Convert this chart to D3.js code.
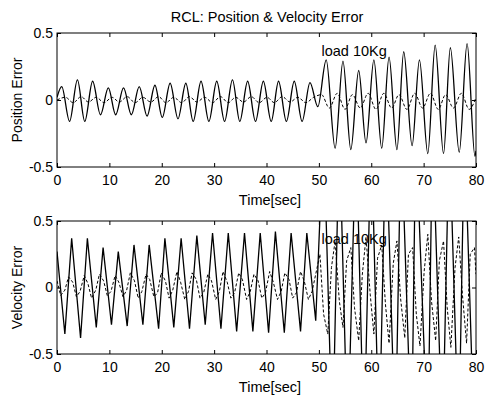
<!DOCTYPE html>
<html lang="en">
<head>
<meta charset="utf-8"/>
<title>RCL Position & Velocity Error</title>
<script src="https://d3js.org/d3.v7.min.js"></script>
<style>
  body { margin: 0; background: #fff; }
  text { font-family: "Liberation Sans", Arial, sans-serif; fill: #000; }
</style>
</head>
<body>
<div id="chart"></div>
<script>
// ticks and labels
var xTicks = [0, 10, 20, 30, 40, 50, 60, 70, 80];
var yTicks = [-0.5, 0, 0.5];
var yTickLabels = ["-0.5", "0", "0.5"];

// position error, solid line (time [s], error) read at the peaks / troughs
var posSolid = [
  [0, 0.02], [0.9, 0.10], [2.4, -0.16], [3.9, 0.15], [5.3, -0.16], [6.8, 0.14],
  [8.3, -0.11], [9.8, 0.09], [11.2, -0.11], [12.7, 0.09], [14.2, -0.11], [15.7, 0.10],
  [17.2, -0.12], [18.7, 0.11], [20.1, -0.13], [21.6, 0.125], [23.1, -0.14], [24.6, 0.125],
  [26.0, -0.16], [27.5, 0.14], [29.0, -0.16], [30.5, 0.14], [32.0, -0.16], [33.5, 0.15],
  [34.9, -0.16], [36.4, 0.14], [37.9, -0.16], [39.4, 0.14], [40.9, -0.16], [42.3, 0.14],
  [43.8, -0.16], [45.3, 0.14], [46.8, -0.16], [48.3, 0.13], [49.8, -0.05], [51.4, 0.30],
  [53.1, -0.36], [54.6, 0.29], [56.1, -0.37], [57.6, 0.22], [59.0, -0.32], [60.5, 0.30],
  [62.0, -0.36], [63.4, 0.32], [64.9, -0.37], [66.2, 0.36], [67.8, -0.34], [69.2, 0.30],
  [70.8, -0.40], [72.2, 0.41], [73.8, -0.40], [75.1, 0.39], [76.8, -0.39], [78.3, 0.42],
  [79.8, -0.42], [80, -0.38]
];

// position error, dashed line
var posDash = [
  [0, 0.0], [1.6, 0.02], [3.1, -0.02], [4.6, 0.025], [6.0, -0.015], [7.5, 0.02],
  [9.0, -0.02], [10.5, 0.02], [11.9, -0.015], [13.4, 0.025], [14.9, -0.02], [16.4, 0.02],
  [17.9, -0.015], [19.4, 0.025], [20.8, -0.02], [22.3, 0.02], [23.8, -0.02], [25.3, 0.025],
  [26.7, -0.015], [28.2, 0.02], [29.7, -0.02], [31.2, 0.025], [32.7, -0.02], [34.1, 0.02],
  [35.6, -0.015], [37.1, 0.025], [38.6, -0.02], [40.1, 0.02], [41.5, -0.02], [43.0, 0.025],
  [44.5, -0.015], [46.0, 0.02], [47.5, -0.02], [49.0, 0.02], [50.5, 0.04], [52.0, -0.06],
  [53.5, 0.05], [55.0, -0.07], [56.4, 0.04], [57.9, -0.06], [59.4, 0.05], [60.9, -0.07],
  [62.4, 0.05], [63.9, -0.06], [65.3, 0.04], [66.8, -0.07], [68.3, 0.05], [69.8, -0.06],
  [71.3, 0.05], [72.8, -0.07], [74.2, 0.04], [75.7, -0.06], [77.2, 0.05], [78.7, -0.07],
  [80, 0.02]
];

// velocity error, solid line
var velSolid = [
  [0, 0.27], [1.5, -0.35], [2.8, 0.37], [4.5, -0.38], [5.8, 0.37], [7.5, -0.30],
  [8.8, 0.30], [10.4, -0.28], [11.7, 0.27], [13.4, -0.29], [14.7, 0.32], [16.4, -0.28],
  [17.6, 0.32], [19.4, -0.31], [20.6, 0.37], [22.3, -0.30], [23.7, 0.37], [25.3, -0.31],
  [26.7, 0.39], [28.3, -0.28], [29.7, 0.41], [31.3, -0.31], [32.7, 0.41], [34.3, -0.33],
  [35.8, 0.41], [37.4, -0.33], [38.8, 0.41], [40.4, -0.34], [41.7, 0.42], [43.4, -0.34],
  [44.7, 0.41], [46.5, -0.33], [47.7, 0.41], [49.4, -0.25], [50.9, 1.2], [52.6, -1.2],
  [53.9, 1.2], [55.5, -1.2], [57.1, 1.2], [58.6, -1.2], [60.0, 1.2], [61.5, -1.2],
  [62.8, 1.2], [64.6, -1.2], [65.7, 1.2], [67.7, -1.2], [68.5, 1.2], [70.8, -1.2],
  [71.7, 1.2], [73.6, -1.2], [74.9, 1.2], [76.7, -1.2], [77.8, 1.2], [79.7, -1.2],
  [80, -0.8]
];

// velocity error, dashed line
var velDash = [
  [0, 0.05], [0.7, -0.06], [1.5, -0.02], [2.2, 0.08], [3.0, 0.04], [3.7, -0.07],
  [4.4, -0.03], [5.2, 0.09], [5.9, 0.03], [6.6, -0.08], [7.4, -0.02], [8.1, 0.10],
  [8.9, 0.05], [9.6, -0.06], [10.3, -0.03], [11.1, 0.09], [11.8, 0.04], [12.6, -0.07],
  [13.3, -0.02], [14.0, 0.11], [14.8, 0.05], [15.5, -0.08], [16.2, -0.03], [17.0, 0.10],
  [17.7, 0.06], [18.5, -0.07], [19.2, -0.04], [19.9, 0.11], [20.7, 0.05], [21.4, -0.08],
  [22.1, -0.02], [22.9, 0.12], [23.6, 0.04], [24.4, -0.09], [25.1, -0.03], [25.8, 0.11],
  [26.6, 0.06], [27.3, -0.08], [28.0, -0.04], [28.8, 0.10], [29.5, 0.05], [30.3, -0.09],
  [31.0, -0.03], [31.7, 0.12], [32.5, 0.04], [33.2, -0.08], [33.9, -0.04], [34.7, 0.11],
  [35.4, 0.06], [36.2, -0.09], [36.9, -0.03], [37.6, 0.10], [38.4, 0.05], [39.1, -0.08],
  [39.8, -0.04], [40.6, 0.12], [41.3, 0.04], [42.1, -0.09], [42.8, -0.03], [43.5, 0.11],
  [44.3, 0.06], [45.0, -0.08], [45.7, -0.04], [46.5, 0.12], [47.2, 0.05], [48.0, -0.09],
  [48.7, -0.03], [49.4, 0.10], [50.2, 0.25], [50.9, -0.20], [51.7, -0.35], [52.4, 0.15],
  [53.1, 0.35], [53.9, -0.10], [54.6, -0.30], [55.3, 0.20], [56.1, 0.30], [56.8, -0.15],
  [57.6, -0.40], [58.3, 0.10], [59.0, 0.38], [59.8, -0.05], [60.5, -0.35], [61.2, 0.22],
  [62.0, 0.32], [62.7, -0.12], [63.4, -0.42], [64.2, 0.18], [64.9, 0.35], [65.6, -0.08],
  [66.4, -0.38], [67.1, 0.25], [67.9, 0.30], [68.6, -0.20], [69.3, -0.44], [70.1, 0.12],
  [70.8, 0.40], [71.5, -0.10], [72.3, -0.40], [73.0, 0.20], [73.8, 0.35], [74.5, -0.15],
  [75.2, -0.45], [76.0, 0.15], [76.7, 0.38], [77.4, -0.05], [78.2, -0.42], [78.9, 0.25],
  [79.7, 0.30], [80, 0.10]
];

var w = 486;
var h = 398;
var left = 57, right = 476;

var svg = d3.select("#chart")
            .append("svg")
            .attr("width", w)
            .attr("height", h);

svg.append("text")
   .attr("x", 267)
   .attr("y", 22)
   .attr("text-anchor", "middle")
   .style("font-size", "14.5px")
   .text("RCL: Position & Velocity Error");

var xScale = d3.scaleLinear().domain([0, 80]).range([left, right]);

// one panel: frame, ticks, labels and the two lines
function panel(id, top, bottom, yLabel, solid, dash, curve) {
    var yScale = d3.scaleLinear().domain([-0.5, 0.5]).range([bottom, top]);
    var g = svg.append("g");

    g.append("clipPath").attr("id", id)
     .append("rect")
     .attr("x", left).attr("y", top)
     .attr("width", right - left).attr("height", bottom - top);

    var line = d3.line()
                 .x(function (d) { return xScale(d[0]); })
                 .y(function (d) { return yScale(d[1]); })
                 .curve(curve);

    var lines = g.append("g").attr("clip-path", "url(#" + id + ")");
    lines.append("path")
         .attr("d", line(dash))
         .attr("fill", "none")
         .attr("stroke", "#000")
         .attr("stroke-width", 1)
         .attr("stroke-dasharray", "3,2");
    lines.append("path")
         .attr("d", line(solid))
         .attr("fill", "none")
         .attr("stroke", "#000")
         .attr("stroke-width", 1.3);

    // axes with inward ticks
    g.append("g").attr("transform", "translate(0," + bottom + ")")
     .call(d3.axisBottom(xScale).tickValues(xTicks).tickSize(-4).tickPadding(8)
             .tickFormat(d3.format("d")));
    g.append("g").attr("transform", "translate(0," + top + ")")
     .call(d3.axisTop(xScale).tickValues(xTicks).tickSize(-4).tickFormat(""));
    g.append("g").attr("transform", "translate(" + left + ",0)")
     .call(d3.axisLeft(yScale).tickValues(yTicks).tickSize(-4).tickPadding(4)
             .tickFormat(function (d, i) { return yTickLabels[i]; }));
    g.append("g").attr("transform", "translate(" + right + ",0)")
     .call(d3.axisRight(yScale).tickValues(yTicks).tickSize(-4).tickFormat(""));

    g.selectAll(".domain").remove();
    g.selectAll(".tick line").attr("stroke", "#000");
    g.selectAll(".tick text")
     .style("font-size", "14px")
     .style("font-family", "'Liberation Sans', Arial, sans-serif");

    g.append("rect")
     .attr("x", left).attr("y", top)
     .attr("width", right - left).attr("height", bottom - top)
     .attr("fill", "none")
     .attr("stroke", "#000")
     .attr("stroke-width", 1);

    g.append("text")
     .attr("x", xScale(50.5))
     .attr("y", yScale(0.33))
     .style("font-size", "14.5px")
     .text("load 10Kg");

    g.append("text")
     .attr("x", 270)
     .attr("y", bottom + 38)
     .attr("text-anchor", "middle")
     .style("font-size", "14.5px")
     .text("Time[sec]");

    g.append("text")
     .attr("transform", "translate(22," + ((top + bottom) / 2) + ") rotate(-90)")
     .attr("text-anchor", "middle")
     .style("font-size", "14px")
     .text(yLabel);
}

panel("clipPos", 33, 167, "Position Error", posSolid, posDash, d3.curveMonotoneX);
panel("clipVel", 221, 354, "Velocity Error", velSolid, velDash, d3.curveLinear);
</script>
</body>
</html>
